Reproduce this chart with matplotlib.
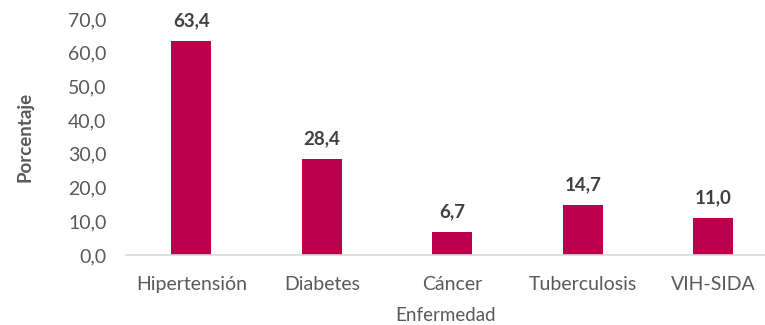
import matplotlib
matplotlib.use("Agg")
import matplotlib.pyplot as plt

# Enfermedades y porcentajes
enfermedades = ["Hipertensión", "Diabetes", "Cáncer", "Tuberculosis", "VIH-SIDA"]
porcentajes = [63.4, 28.4, 6.7, 14.7, 11.0]
yticks = [0, 10, 20, 30, 40, 50, 60, 70]

BAR_COLOR = "#BA004C"
TEXT_COLOR = "#595959"

plt.rcParams["font.family"] = ["Lato", "DejaVu Sans"]

W, H = 765, 325
fig = plt.figure(figsize=(W / 100, H / 100), dpi=100)
left, right, bottom, top = 126, 765, 255, 19
ax = fig.add_axes([left / W, (H - bottom) / H, (right - left) / W, (bottom - top) / H])

x = list(range(len(enfermedades)))
ax.bar(x, porcentajes, width=0.31, color=BAR_COLOR)

for xi, v in zip(x, porcentajes):
    ax.text(xi, v + 3.5, f"{v:.1f}".replace(".", ","), ha="center", va="bottom",
            fontsize=13.5, fontweight="bold", color="#404040")

ax.set_xlim(-0.5, -0.5 + (right - left) / 130.5)
ax.set_ylim(0, 70)
ax.set_yticks(yticks)
ax.set_yticklabels([f"{t:.1f}".replace(".", ",") for t in yticks])
ax.set_xticks(x)
ax.set_xticklabels(enfermedades)
ax.tick_params(axis="both", length=0, labelsize=14, colors=TEXT_COLOR)
ax.tick_params(axis="y", pad=14)
ax.tick_params(axis="x", pad=15)

for side in ["top", "right", "left"]:
    ax.spines[side].set_visible(False)
ax.spines["bottom"].set_color("#D9D9D9")
ax.spines["bottom"].set_linewidth(1.2)

ax.set_ylabel("Porcentaje", fontsize=13.5, fontweight="bold", color=TEXT_COLOR, labelpad=25)
ax.set_xlabel("Enfermedad", fontsize=13.5, color=TEXT_COLOR, labelpad=10)

fig.savefig("out.png", dpi=100)
